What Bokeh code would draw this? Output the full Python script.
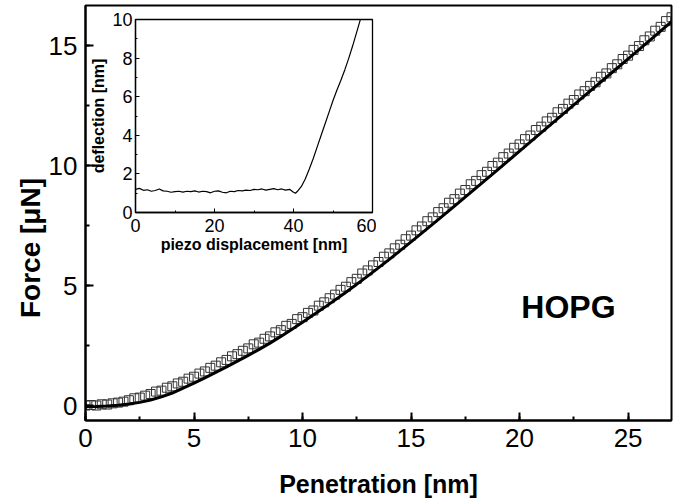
from bokeh.plotting import figure
from bokeh.layouts import column
from bokeh.models import Range1d, SingleIntervalTicker, Label
from bokeh.embed import file_html
from bokeh.resources import INLINE

# ---- main data: penetration (nm) vs force (uN), measured points ----
pen_nm = [0.00, 0.25, 0.50, 0.75, 1.00, 1.25, 1.50, 1.75, 2.00, 2.25, 2.50, 2.75,
          3.00, 3.25, 3.50, 3.75, 4.00, 4.25, 4.50, 4.75, 5.00, 5.25, 5.50, 5.75,
          6.00, 6.25, 6.50, 6.75, 7.00, 7.25, 7.50, 7.75, 8.00, 8.25, 8.50, 8.75,
          9.00, 9.25, 9.50, 9.75, 10.00, 10.25, 10.50, 10.75, 11.00, 11.25, 11.50, 11.75,
          12.00, 12.25, 12.50, 12.75, 13.00, 13.25, 13.50, 13.75, 14.00, 14.25, 14.50, 14.75,
          15.00, 15.25, 15.50, 15.75, 16.00, 16.25, 16.50, 16.75, 17.00, 17.25, 17.50, 17.75,
          18.00, 18.25, 18.50, 18.75, 19.00, 19.25, 19.50, 19.75, 20.00, 20.25, 20.50, 20.75,
          21.00, 21.25, 21.50, 21.75, 22.00, 22.25, 22.50, 22.75, 23.00, 23.25, 23.50, 23.75,
          24.00, 24.25, 24.50, 24.75, 25.00, 25.25, 25.50, 25.75, 26.00, 26.25, 26.50, 26.75,
          27.00]
force_uN = [0.00, 0.02, 0.00, 0.05, 0.04, 0.09, 0.12, 0.16, 0.22, 0.30, 0.33, 0.41,
            0.48, 0.58, 0.62, 0.74, 0.80, 0.92, 0.99, 1.12, 1.20, 1.33, 1.42, 1.57,
            1.66, 1.80, 1.90, 2.05, 2.14, 2.28, 2.38, 2.55, 2.62, 2.78, 2.88, 3.05,
            3.14, 3.32, 3.40, 3.60, 3.68, 3.86, 3.96, 4.16, 4.30, 4.47, 4.62, 4.82,
            4.95, 5.14, 5.28, 5.50, 5.63, 5.84, 5.98, 6.20, 6.34, 6.55, 6.70, 6.93,
            7.08, 7.30, 7.46, 7.68, 7.84, 8.06, 8.22, 8.45, 8.60, 8.83, 8.98, 9.22,
            9.36, 9.60, 9.74, 9.98, 10.12, 10.35, 10.50, 10.74, 10.88, 11.10, 11.25, 11.48,
            11.62, 11.84, 11.99, 12.22, 12.36, 12.58, 12.73, 12.96, 13.10, 13.32, 13.47, 13.70,
            13.84, 14.06, 14.22, 14.44, 14.58, 14.82, 14.98, 15.22, 15.38, 15.62, 15.78, 16.02,
            16.18]

# ---- fitted curve ----
fit_pen = [0.0, 0.5, 1.0, 1.5, 2.0, 2.5, 3.0, 3.5, 4.0, 4.5, 5.0, 5.5, 6.0, 6.5,
           7.0, 7.5, 8.0, 8.5, 9.0, 9.5, 10.0, 11.0, 12.0, 13.0, 14.0, 15.0, 16.0,
           17.0, 18.0, 19.0, 20.0, 21.0, 22.0, 23.0, 24.0, 25.0, 26.0, 27.0]
fit_force = [-0.05, -0.04, -0.02, 0.01, 0.06, 0.13, 0.23, 0.36, 0.52, 0.72, 0.93, 1.15,
             1.38, 1.61, 1.85, 2.09, 2.34, 2.60, 2.88, 3.17, 3.47, 4.08, 4.72, 5.39,
             6.09, 6.82, 7.56, 8.31, 9.07, 9.83, 10.60, 11.37, 12.14, 12.91, 13.68,
             14.45, 15.22, 16.00]

# ---- inset: piezo displacement vs deflection ----
piezo_nm = [0, 1, 2, 3, 4, 5, 6, 7, 8, 9, 10, 11, 12, 13, 14, 15, 16, 17, 18, 19,
            20, 21, 22, 23, 24, 25, 26, 27, 28, 29, 30, 31, 32, 33, 34, 35, 36, 37,
            38, 39, 40, 40.5, 41, 42, 43, 44, 45, 46, 47, 48, 49, 50, 51, 52, 53, 54,
            55, 56, 57]
deflection_nm = [1.20, 1.25, 1.15, 1.18, 1.10, 1.14, 1.22, 1.12, 1.10, 1.05, 1.08, 1.10,
                 1.06, 1.10, 1.08, 1.12, 1.06, 1.10, 1.08, 1.02, 1.10, 1.12, 1.05, 1.02,
                 1.10, 1.08, 1.14, 1.12, 1.16, 1.14, 1.20, 1.18, 1.22, 1.16, 1.20, 1.24,
                 1.18, 1.22, 1.16, 1.20, 1.05, 1.00, 1.10, 1.35, 1.75, 2.25, 2.80, 3.40,
                 4.00, 4.60, 5.20, 5.80, 6.35, 6.85, 7.40, 8.00, 8.65, 9.35, 10.05]

FONT = "Liberation Sans"

# ---------------- main figure ----------------
p = figure(width=677, height=503, output_backend="svg", toolbar_location=None,
           x_range=Range1d(0, 27.0), y_range=Range1d(-0.625, 16.67),
           min_border_left=78, min_border_right=6, min_border_top=5, min_border_bottom=83)
p.grid.visible = False
p.background_fill_color = "white"
p.border_fill_color = "white"
p.outline_line_color = "black"
p.outline_line_width = 2

p.scatter(pen_nm, force_uN, marker="square", size=9, fill_color=None,
          line_color="#333333", line_width=1)
p.line(fit_pen, fit_force, line_width=3, line_color="black")

for ax in (p.xaxis[0], p.yaxis[0]):
    ax.ticker = SingleIntervalTicker(interval=5, num_minor_ticks=2)
    ax.axis_line_width = 2
    ax.axis_line_color = "black"
    ax.major_tick_in = 8
    ax.major_tick_out = 0
    ax.minor_tick_in = 4
    ax.minor_tick_out = 0
    ax.major_tick_line_width = 2
    ax.minor_tick_line_width = 2
    ax.major_label_text_font = FONT
    ax.major_label_text_font_size = "26px"
    ax.major_label_text_color = "black"
    ax.axis_label_text_font = FONT
    ax.axis_label_text_font_style = "bold"
    ax.axis_label_text_color = "black"

p.xaxis.axis_label = "Penetration [nm]"
p.xaxis.axis_label_text_font_size = "25px"
p.yaxis.axis_label = "Force [\u03bcN]" + "\u00a0" * 9
p.yaxis.axis_label_text_font_size = "28px"
p.xaxis.major_label_standoff = 8
p.xaxis.axis_label_standoff = 20
p.yaxis.major_label_standoff = 8
p.yaxis.axis_label_standoff = 0

p.add_layout(Label(x=22.25, y=4.1, text="HOPG", text_font=FONT, text_font_style="bold",
                   text_font_size="32px", text_align="center", text_baseline="middle",
                   text_color="black"))

# ---------------- inset figure ----------------
q = figure(frame_width=237, frame_height=193, output_backend="svg", toolbar_location=None,
           x_range=Range1d(0, 60), y_range=Range1d(0, 10),
           min_border_left=85, min_border_right=4, min_border_top=12, min_border_bottom=50)
q.grid.visible = False
q.background_fill_color = "white"
q.border_fill_alpha = 0
q.outline_line_color = "black"
q.outline_line_width = 1.3

q.line(piezo_nm, deflection_nm, line_width=1.2, line_color="black")

for ax, interval in ((q.xaxis[0], 20), (q.yaxis[0], 2)):
    ax.ticker = SingleIntervalTicker(interval=interval, num_minor_ticks=2)
    ax.axis_line_width = 1.3
    ax.axis_line_color = "black"
    ax.major_tick_in = 4
    ax.major_tick_out = 0
    ax.minor_tick_in = 2
    ax.minor_tick_out = 0
    ax.major_label_text_font = FONT
    ax.major_label_text_font_size = "18px"
    ax.major_label_text_color = "black"
    ax.axis_label_text_font = FONT
    ax.axis_label_text_font_style = "bold"
    ax.axis_label_text_font_size = "16px"
    ax.axis_label_text_color = "black"

q.xaxis.axis_label = "piezo displacement [nm]"
q.yaxis.axis_label = "deflection [nm]"
q.xaxis.major_label_standoff = 6
q.xaxis.axis_label_standoff = 1
q.yaxis.major_label_standoff = 3
q.yaxis.axis_label_standoff = 2

q.styles = {"position": "absolute", "left": "50px", "top": "7px", "z-index": "2"}

layout = column(p, q)
open("out.html", "w").write(file_html(layout, INLINE))
